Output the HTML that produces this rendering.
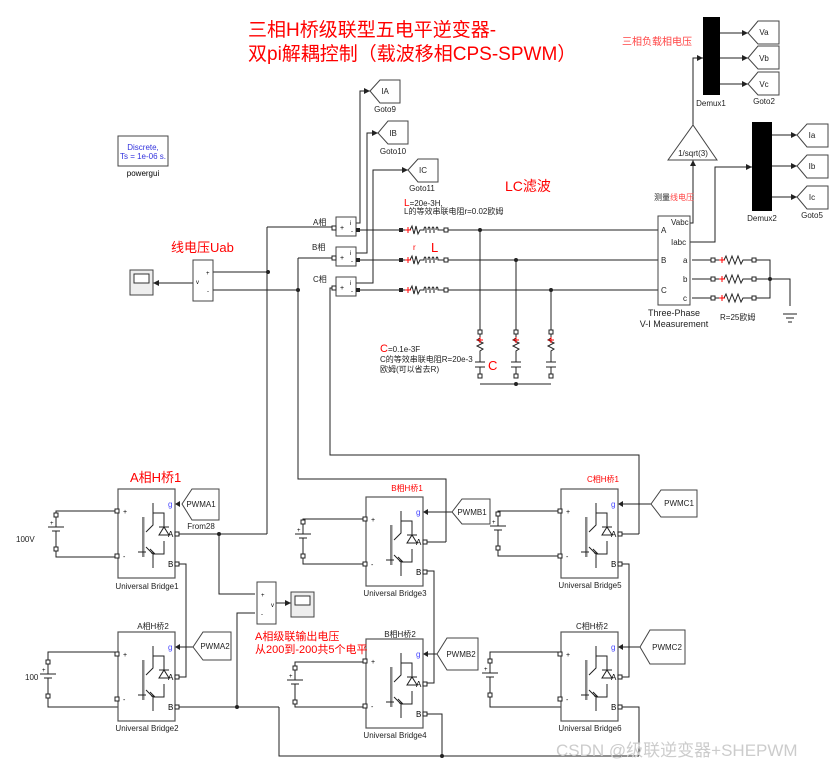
<!DOCTYPE html>
<html><head><meta charset="utf-8"><style>
body{margin:0;background:#fff}
svg{display:block}
text{font-family:"Liberation Sans","Noto Sans CJK SC",sans-serif}
</style></head><body>
<svg width="832" height="768" viewBox="0 0 832 768" xmlns="http://www.w3.org/2000/svg">
<defs>
<symbol id="br" overflow="visible">
<rect x="0" y="0" width="57" height="89" fill="#fff" stroke="#555" stroke-width="1.2"/>
<rect x="24" y="28" width="2.5" height="40" fill="#888"/>
<path d="M35 14v22l-7 7M35 24h11v14M28 58l7 7v14M46 52v13h-11M20 63h8" fill="none" stroke="#222" stroke-width="1"/>
<path d="M41 46h10l-5-8z M41 38h10" fill="none" stroke="#222" stroke-width="1"/>
<path d="M32 60l4 4l-3 0" fill="none" stroke="#222"/>
<text x="5" y="25" font-size="7">+</text><text x="5" y="70" font-size="7">-</text>
<text x="50" y="18" font-size="8" fill="#44f">g</text>
<text x="50" y="48" font-size="8">A</text><text x="50" y="78" font-size="8">B</text>
<rect x="-3" y="20" width="4" height="4" fill="#fff" stroke="#222"/>
<rect x="-3" y="65" width="4" height="4" fill="#fff" stroke="#222"/>
<rect x="57" y="43" width="4" height="4" fill="#fff" stroke="#222"/>
<rect x="57" y="73" width="4" height="4" fill="#fff" stroke="#222"/>
<path d="M57 15l5-3v6z" fill="#222"/>
</symbol>
<symbol id="bat" overflow="visible">
<path d="M0 0v12M-8 12h16M-4 16h8M0 16v18" stroke="#222" fill="none"/>
<text x="-6" y="10" font-size="6">+</text>
<rect x="-2" y="-2" width="4" height="4" fill="#fff" stroke="#222"/>
<rect x="-2" y="32" width="4" height="4" fill="#fff" stroke="#222"/>
</symbol>
<symbol id="rl" overflow="visible">
<path d="M0 0h8l2-4 2 8 2-8 2 8 2-4h4c0-4 2-4 2 0v3M26 0c0-4 2-4 2 0v3M30 0c0-4 2-4 2 0v3M34 0c0-4 2-4 2 0h6" stroke="#222" fill="none"/>
<path d="M6 -3v6M3 0h6" stroke="red"/>
<rect x="-3" y="-2" width="4" height="4" fill="#222"/><rect x="42" y="-2" width="4" height="4" fill="#fff" stroke="#222"/>
</symbol>
<symbol id="res" overflow="visible">
<path d="M0 0h10l2-4 3 8 3-8 3 8 3-8 3 8 2-4h10" stroke="#222" fill="none"/>
<path d="M8 -3v6M5 0h6" stroke="red"/>
<rect x="-3" y="-2" width="4" height="4" fill="#fff" stroke="#222"/><rect x="38" y="-2" width="4" height="4" fill="#fff" stroke="#222"/>
</symbol>
<symbol id="cap" overflow="visible">
<path d="M0 0v6l-3 2 6 3-6 3 6 3-3 2v10M-5 30h10M-5 35h10M0 35v9M0 22v8" stroke="#222" fill="none"/>
<path d="M-3 8h6M0 5v6" stroke="red"/>
<rect x="-2" y="-2" width="4" height="4" fill="#fff" stroke="#222"/><rect x="-2" y="42" width="4" height="4" fill="#fff" stroke="#222"/>
</symbol>
<symbol id="cm" overflow="visible">
<rect x="0" y="0" width="20" height="19" fill="#fff" stroke="#444"/>
<text x="14" y="8" font-size="6">i</text><text x="4" y="13" font-size="7">+</text><text x="15" y="16" font-size="6">-</text>
</symbol>
<symbol id="scope" overflow="visible">
<rect x="0" y="0" width="23" height="25" fill="#eee" stroke="#444"/><rect x="4" y="4" width="15" height="9" fill="#fff" stroke="#333"/>
</symbol>
</defs>

<g stroke="#222" fill="none" stroke-width="1">
<path d="M356 223h4V91h10M356 253h11V133h11M356 283h17V170h35"/>
<path d="M358 230h42M445 230h213M358 260h42M445 260h213M358 290h42M445 290h213"/>
<path d="M480 230v100M516 260v70M551 290v40M480 384h71"/>
<path d="M267 227h67M298 258h36M330 290v-2h4"/>
<path d="M213 272h55M213 290h85M153 283h40"/>
<path d="M267 227v307M298 258v221h148v63M330 288v167h309v79"/>
<path d="M690 223h3V160M693 125V58h10M690 242h25v-75h37M720 33h28M720 58h28M720 84h28M772 135h25M772 166h25M772 197h25"/>
<path d="M712 260h-20M712 279h-20M712 298h-20M755 260h15v38h-15M755 279h15M770 279h20v27M783 314h14M786 318h8M788 322h4"/>
<path d="M178 534h89M219 534v60h36M178 564h8v113h-8M178 707h101M237 707v-94h18M279 707v49h360M276 603h15"/>
<path d="M56 515v-4h62M56 549v8h62M48 662v-10h70M48 696v11h70"/>
<path d="M303 522v-3h63M303 556v8h63M295 668v-6h71M295 702v5h71"/>
<path d="M426 542h20M426 571h8v112h-8M426 714h16v42"/>
<path d="M498 514v-3h63M498 548v8h63M490 661v-9h71M490 695v12h71"/>
<path d="M621 534h18M621 564h8v113h-8M621 707h18v49"/>
<path d="M193 647h-13M452 512h-26M437 654h-11M651 504h-30M640 647h-19"/>
</g>
<g fill="#222">
<circle cx="268" cy="272" r="2"/><circle cx="298" cy="290" r="2"/><circle cx="480" cy="230" r="2"/><circle cx="516" cy="260" r="2"/><circle cx="551" cy="290" r="2"/><circle cx="516" cy="384" r="2"/><circle cx="770" cy="279" r="2"/>
<circle cx="219" cy="534" r="2"/><circle cx="237" cy="707" r="2"/><circle cx="442" cy="756" r="2"/>
<path d="M370 91l-6-3v6zM378 133l-6-3v6zM408 170l-6-3v6zM703 58l-6-3v6zM752 167l-6-3v6zM748 33l-6-3v6zM748 58l-6-3v6zM748 84l-6-3v6zM797 135l-6-3v6zM797 166l-6-3v6zM797 197l-6-3v6zM693 160l-3 6h6zM153 283l6-3v6zM291 603l-6-3v6z"/>
</g>

<use href="#cm" x="336" y="217"/><use href="#cm" x="336" y="247"/><use href="#cm" x="336" y="277"/>
<g fill="#fff" stroke="#222"><rect x="332" y="226" width="4" height="4"/><rect x="332" y="256" width="4" height="4"/><rect x="332" y="286" width="4" height="4"/></g>
<g fill="#222"><rect x="356" y="228" width="4" height="4"/><rect x="356" y="258" width="4" height="4"/><rect x="356" y="288" width="4" height="4"/></g>
<use href="#rl" x="402" y="230"/><use href="#rl" x="402" y="260"/><use href="#rl" x="402" y="290"/>
<use href="#cap" x="480" y="332"/><use href="#cap" x="516" y="332"/><use href="#cap" x="551" y="332"/>
<rect x="193" y="260" width="20" height="41" fill="#fff" stroke="#444"/>
<text x="196" y="284" font-size="6">v</text><text x="206" y="275" font-size="6">+</text><text x="207" y="293" font-size="6">-</text>
<use href="#scope" x="130" y="270"/>
<rect x="118" y="136" width="50" height="30" fill="#fff" stroke="#444"/>
<text x="143" y="150" font-size="8" fill="#33d" text-anchor="middle">Discrete,</text>
<text x="143" y="159" font-size="8" fill="#33d" text-anchor="middle">Ts = 1e-06 s.</text>
<text x="143" y="176" font-size="8" text-anchor="middle">powergui</text>

<g fill="#fff" stroke="#444">
<path d="M370 91l10-11h20v23h-20z"/><path d="M378 133l10-12h20v23h-20z"/><path d="M408 170l10-11h20v23h-20z"/>
<path d="M748 33l10-12h21v23h-21z"/><path d="M748 58l10-12h21v23h-21z"/><path d="M748 84l10-12h21v23h-21z"/>
<path d="M797 135l10-11h21v23h-21z"/><path d="M797 166l10-11h21v23h-21z"/><path d="M797 197l10-11h21v23h-21z"/>
<path d="M668 160l25-35 24 35z"/>
<rect x="658" y="216" width="32" height="89"/>
<path d="M182 504l10-15h27v31h-27z"/>
<path d="M193 647l10-15h28v28h-28z"/>
<path d="M452 512l10-13h28v25h-28z"/><path d="M437 654l10-16h31v32h-31z"/>
<path d="M651 504l10-14h36v27h-36z"/><path d="M640 647l10-17h35v34h-35z"/>
</g>
<rect x="703" y="17" width="17" height="78" fill="#000"/><rect x="752" y="122" width="20" height="89" fill="#000"/>
<use href="#res" x="714" y="260"/><use href="#res" x="714" y="279"/><use href="#res" x="714" y="298"/>

<use href="#br" x="118" y="489"/><use href="#br" x="118" y="632"/>
<use href="#br" x="366" y="497"/><use href="#br" x="366" y="639"/>
<use href="#br" x="561" y="489"/><use href="#br" x="561" y="632"/>
<use href="#bat" x="56" y="515"/><use href="#bat" x="48" y="662"/><use href="#bat" x="303" y="522"/><use href="#bat" x="295" y="668"/><use href="#bat" x="498" y="514"/><use href="#bat" x="490" y="661"/>
<rect x="257" y="582" width="19" height="42" fill="#fff" stroke="#444"/>
<text x="271" y="607" font-size="6">v</text><text x="261" y="597" font-size="6">+</text><text x="261" y="616" font-size="6">-</text>
<use href="#scope" x="291" y="592"/>

<g font-size="8" fill="#222">
<text x="385" y="94" text-anchor="middle">IA</text><text x="385" y="112" text-anchor="middle">Goto9</text>
<text x="393" y="136" text-anchor="middle">IB</text><text x="393" y="154" text-anchor="middle">Goto10</text>
<text x="423" y="173" text-anchor="middle">IC</text><text x="422" y="191" text-anchor="middle">Goto11</text>
<text x="404" y="206"><tspan fill="red" font-size="10">L</tspan>=20e-3H,</text>
<text x="404" y="214">L的等效串联电阻r=0.02欧姆</text>
<text x="313" y="225">A相</text><text x="312" y="250">B相</text><text x="313" y="282">C相</text>
<text x="380" y="352"><tspan fill="red" font-size="11">C</tspan>=0.1e-3F</text>
<text x="380" y="362">C的等效串联电阻R=20e-3</text><text x="380" y="372">欧姆(可以省去R)</text>
<text x="764" y="35" text-anchor="middle">Va</text><text x="764" y="61" text-anchor="middle">Vb</text><text x="764" y="87" text-anchor="middle">Vc</text>
<text x="711" y="106" text-anchor="middle">Demux1</text><text x="764" y="104" text-anchor="middle">Goto2</text>
<text x="693" y="156" text-anchor="middle">1/sqrt(3)</text>
<text x="812" y="138" text-anchor="middle">Ia</text><text x="812" y="169" text-anchor="middle">Ib</text><text x="812" y="200" text-anchor="middle">Ic</text>
<text x="762" y="221" text-anchor="middle">Demux2</text><text x="812" y="218" text-anchor="middle">Goto5</text>
<text x="671" y="225">Vabc</text><text x="671" y="245">Iabc</text><text x="683" y="263">a</text><text x="683" y="282">b</text><text x="683" y="301">c</text>
<text x="661" y="233">A</text><text x="661" y="263">B</text><text x="661" y="293">C</text>
<text x="674" y="316" text-anchor="middle" font-size="9">Three-Phase</text><text x="674" y="327" text-anchor="middle" font-size="9">V-I Measurement</text>
<text x="720" y="320">R=25欧姆</text>
<text x="654" y="200">测量<tspan fill="#f44">线电压</tspan></text>
<text x="201" y="507" text-anchor="middle">PWMA1</text><text x="201" y="529" text-anchor="middle">From28</text>
<text x="215" y="649" text-anchor="middle">PWMA2</text>
<text x="472" y="515" text-anchor="middle">PWMB1</text><text x="461" y="657" text-anchor="middle">PWMB2</text>
<text x="679" y="506" text-anchor="middle">PWMC1</text><text x="667" y="650" text-anchor="middle">PWMC2</text>
<text x="147" y="589" text-anchor="middle">Universal Bridge1</text><text x="147" y="731" text-anchor="middle">Universal Bridge2</text>
<text x="395" y="596" text-anchor="middle">Universal Bridge3</text><text x="395" y="738" text-anchor="middle">Universal Bridge4</text>
<text x="590" y="588" text-anchor="middle">Universal Bridge5</text><text x="590" y="731" text-anchor="middle">Universal Bridge6</text>
<text x="153" y="629" text-anchor="middle">A相H桥2</text><text x="400" y="637" text-anchor="middle">B相H桥2</text><text x="592" y="629" text-anchor="middle">C相H桥2</text>
<text x="407" y="491" text-anchor="middle" fill="red">B相H桥1</text><text x="603" y="482" text-anchor="middle" fill="red">C相H桥1</text>
<text x="16" y="542">100V</text><text x="25" y="680">100</text>
</g>
<text x="413" y="250" font-size="8" fill="red">r</text>
<text x="431" y="252" font-size="13" fill="red">L</text>
<text x="488" y="370" font-size="13" fill="red">C</text>
<text x="505" y="191" font-size="14" fill="red">LC滤波</text>
<text x="171" y="252" font-size="13" fill="red">线电压Uab</text>
<text x="130" y="482" font-size="13" fill="red">A相H桥1</text>
<text x="255" y="640" font-size="11" fill="red">A相级联输出电压</text>
<text x="255" y="653" font-size="11" fill="red">从200到-200共5个电平</text>
<text x="622" y="45" font-size="10" fill="#f44" font-family="Noto Serif CJK SC,serif">三相负载相电压</text>
<text x="248" y="36" font-size="19" fill="red">三相H桥级联型五电平逆变器-</text>
<text x="248" y="60" font-size="19" fill="red">双pi解耦控制（载波移相CPS-SPWM）</text>
<text x="556" y="756" font-size="17" fill="#ccc">CSDN @级联逆变器+SHEPWM</text>
</svg>
</body></html>
